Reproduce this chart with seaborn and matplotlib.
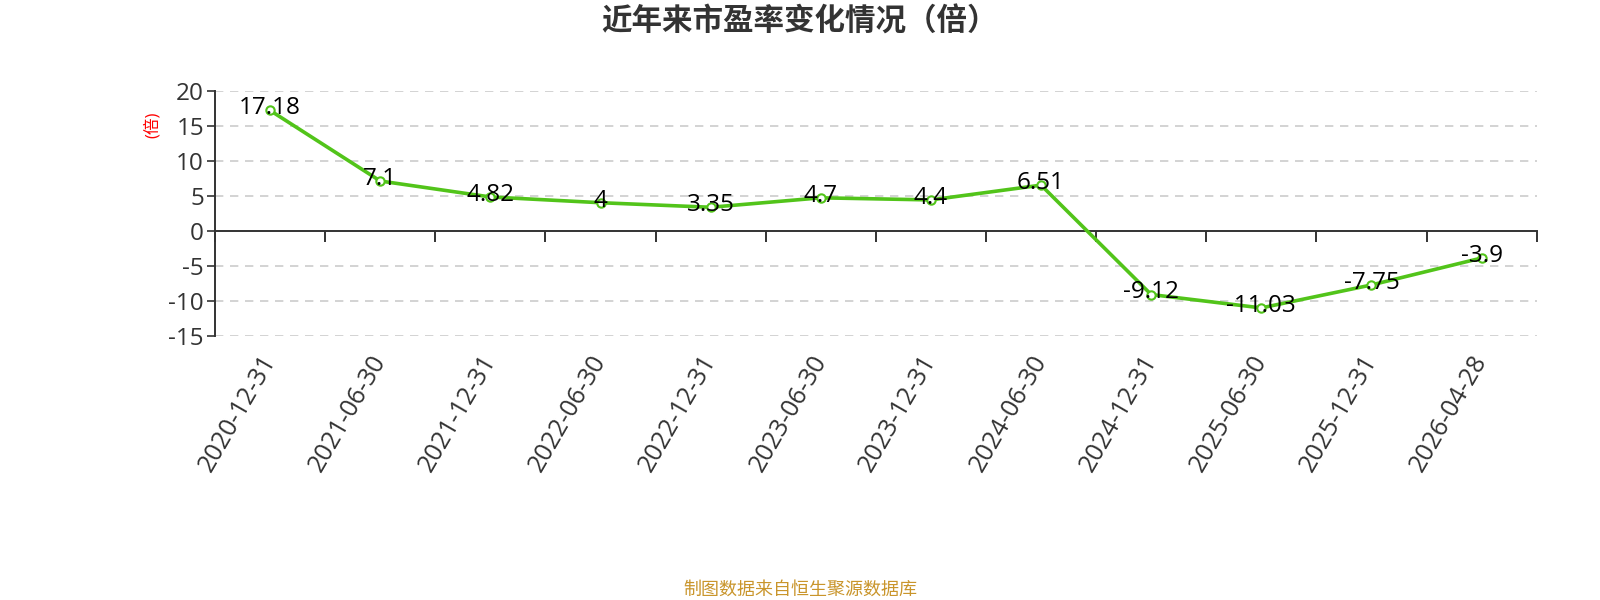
import numpy as np
import pandas as pd
import seaborn as sns
import matplotlib.pyplot as plt

# data
dates = ['2020-12-31', '2021-06-30', '2021-12-31', '2022-06-30', '2022-12-31', '2023-06-30',
         '2023-12-31', '2024-06-30', '2024-12-31', '2025-06-30', '2025-12-31', '2026-04-28']
pe = [17.18, 7.1, 4.82, 4, 3.35, 4.7, 4.4, 6.51, -9.12, -11.03, -7.75, -3.9]
y_ticks = [-15, -10, -5, 0, 5, 10, 15, 20]

sns.set_style('white')
plt.rcParams['font.family'] = ['Open Sans', 'Noto Sans CJK SC', 'DejaVu Sans']
plt.rcParams['axes.unicode_minus'] = False

green = '#52c41a'
dark = '#333333'

df = pd.DataFrame({'idx': range(len(dates)), 'pe': pe})

fig = plt.figure(figsize=(16, 6), dpi=100)
ax = fig.add_axes([0.1344, 0.4405, 0.826, 0.4083])

sns.lineplot(data=df, x='idx', y='pe', ax=ax, color=green, linewidth=2.6,
             marker='o', markersize=6, markerfacecolor='white',
             markeredgecolor=green, markeredgewidth=1.5, zorder=3)

# data labels
for i, v in enumerate(pe):
    ax.text(i, v + 0.3, f'{v:g}', ha='center', va='center', fontsize=17.5, color='black', zorder=4)

ax.set_xlim(-0.5, len(dates) - 0.5)
ax.set_ylim(-15, 20)
ax.set_yticks(y_ticks)
ax.tick_params(axis='y', left=True, length=6, width=1.2, color=dark,
               labelsize=17.5, labelcolor=dark, pad=2)

# category axis line on zero, ticks at band edges
ax.spines['bottom'].set_position(('data', 0))
ax.spines['top'].set_visible(False)
ax.spines['right'].set_visible(False)
for s in ['bottom', 'left']:
    ax.spines[s].set_color(dark)
    ax.spines[s].set_linewidth(1.4)
ax.set_xticks(np.arange(-0.5, len(dates), 1.0))
ax.set_xticklabels([])
ax.tick_params(axis='x', bottom=True, length=8, width=1.4, color=dark, direction='out')
ax.set_xlabel('')
ax.set_ylabel('')

# horizontal dashed grid
for t in y_ticks:
    if t != 0:
        ax.axhline(t, color='#cccccc', linestyle=(0, (5, 4)), linewidth=1.2, zorder=0)

# date labels along the bottom
secax = ax.secondary_xaxis('bottom')
secax.set_xticks(range(len(dates)), labels=dates)
secax.spines['bottom'].set_visible(False)
secax.tick_params(bottom=True, length=0, labelsize=18, labelcolor=dark, pad=15)
plt.setp(secax.get_xticklabels(), rotation=60, ha='right', va='center', rotation_mode='anchor')

fig.text(0.0956, 0.792, '(倍)', rotation=90, color='red', fontsize=12, ha='center', va='center')
fig.text(0.5, 0.962, '近年来市盈率变化情况（倍）', fontsize=22, fontweight='bold',
         color=dark, ha='center', va='center')
fig.text(0.5, 0.0167, '制图数据来自恒生聚源数据库', fontsize=13, color='#c9952b',
         ha='center', va='center')

fig.savefig('out.png', dpi=100)
